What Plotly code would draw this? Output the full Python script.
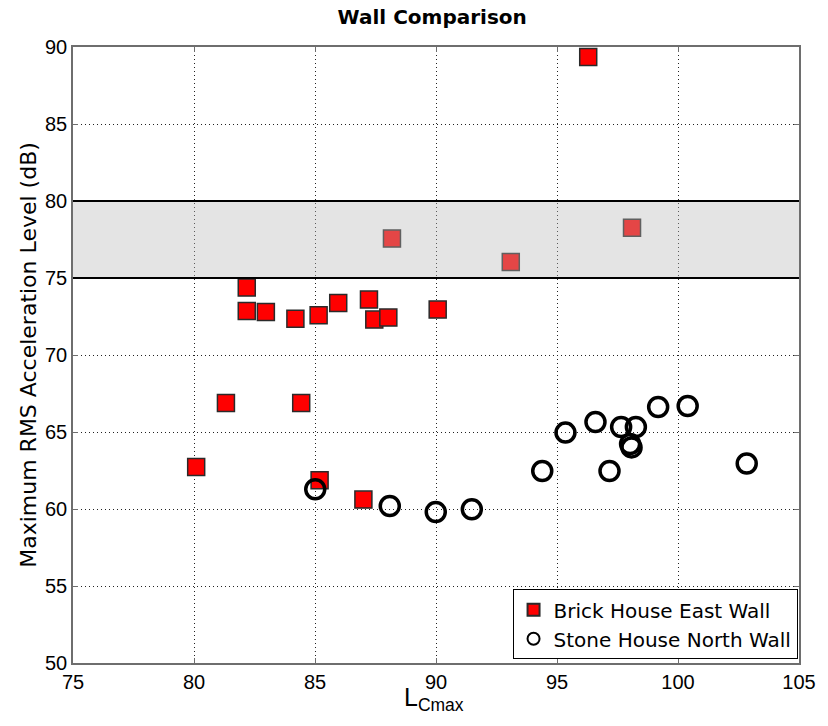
import plotly.graph_objects as go

# Brick house (east wall) measurements: L_Cmax vs max RMS acceleration level
brick_x = [96.29, 88.18, 93.09, 98.10, 82.18, 82.18, 82.97, 84.19, 85.15, 85.96,
           87.23, 87.45, 88.03, 90.07, 81.32, 84.43, 80.09, 85.19, 87.00]
brick_y = [89.35, 77.56, 76.04, 78.27, 74.38, 72.86, 72.79, 72.36, 72.58, 73.38,
           73.60, 72.30, 72.43, 72.95, 66.88, 66.88, 62.73, 61.86, 60.61]

# Stone house (north wall) measurements
stone_x = [85.01, 88.09, 89.99, 91.48, 94.39, 95.35, 96.59, 97.17, 97.65, 98.26,
           98.02, 98.08, 99.18, 100.40, 102.84]
stone_y = [61.28, 60.19, 59.81, 59.98, 62.47, 64.96, 65.65, 62.47, 65.32, 65.32,
           64.22, 64.00, 66.62, 66.69, 62.95]

# Shaded criterion band
band_low, band_high = 75, 80

x_range = [75, 105]
y_range = [50, 90]
x_ticks = [75, 80, 85, 90, 95, 100, 105]
y_ticks = [50, 55, 60, 65, 70, 75, 80, 85, 90]

TICK_FONT = "Liberation Sans, Arial, sans-serif"
TEXT_FONT = "DejaVu Sans, Liberation Sans, sans-serif"

fig = go.Figure()

fig.add_trace(go.Scatter(
    x=brick_x, y=brick_y, mode="markers", name="Brick House East Wall",
    marker=dict(symbol="square", size=17, color="#ff0000",
                line=dict(color="#2a2a2a", width=1.5)),
))
fig.add_trace(go.Scatter(
    x=stone_x, y=stone_y, mode="markers", name="Stone House North Wall",
    marker=dict(symbol="circle-open", size=19, color="black",
                line=dict(color="black", width=3.5)),
))

# translucent grey band drawn over the markers
fig.add_shape(type="rect", xref="x", yref="y",
              x0=x_range[0], x1=x_range[1], y0=band_low, y1=band_high,
              fillcolor="rgba(185,185,185,0.38)", line=dict(width=0), layer="above")
for yv in (band_low, band_high):
    fig.add_shape(type="line", xref="x", yref="y",
                  x0=x_range[0], x1=x_range[1], y0=yv, y1=yv,
                  line=dict(color="black", width=2.2), layer="above")

axis_common = dict(
    showline=True, linecolor="#6e6e6e", linewidth=1.5, mirror="allticks",
    ticks="inside", ticklen=5, tickcolor="#6e6e6e", tickwidth=1,
    showgrid=True, gridcolor="#222222", griddash="1px,3px", gridwidth=1,
    zeroline=False, tickfont=dict(family=TICK_FONT, size=20, color="black"),
)

fig.update_xaxes(range=x_range, tickvals=x_ticks, ticktext=[str(v) for v in x_ticks],
                 **axis_common)
fig.update_yaxes(range=y_range, tickvals=y_ticks, ticktext=[str(v) for v in y_ticks],
                 title=dict(text="Maximum RMS Acceleration Level (dB)",
                            font=dict(family=TEXT_FONT, size=22, color="black"),
                            standoff=2),
                 **axis_common)

# x-axis label with subscript, placed just under the tick labels
fig.add_annotation(text="L<sub>Cmax</sub>", xref="paper", yref="paper",
                   x=0.497, y=-0.058, xanchor="center", yanchor="middle",
                   showarrow=False,
                   font=dict(family=TICK_FONT, size=25, color="black"))

fig.update_layout(
    width=828, height=726,
    margin=dict(l=73.3, r=17.3, t=46.7, b=63.3),
    paper_bgcolor="white", plot_bgcolor="white",
    title=dict(text="<b>Wall Comparison</b>", x=0.522, xanchor="center",
               y=0.986, yanchor="top",
               font=dict(family=TEXT_FONT, size=20, color="black")),
    legend=dict(x=0.998, y=0.006, xanchor="right", yanchor="bottom",
                bgcolor="white", bordercolor="black", borderwidth=1,
                font=dict(family=TEXT_FONT, size=20, color="black"),
                itemsizing="constant", tracegroupgap=0),
    showlegend=True,
)

fig.write_html("out.html")
